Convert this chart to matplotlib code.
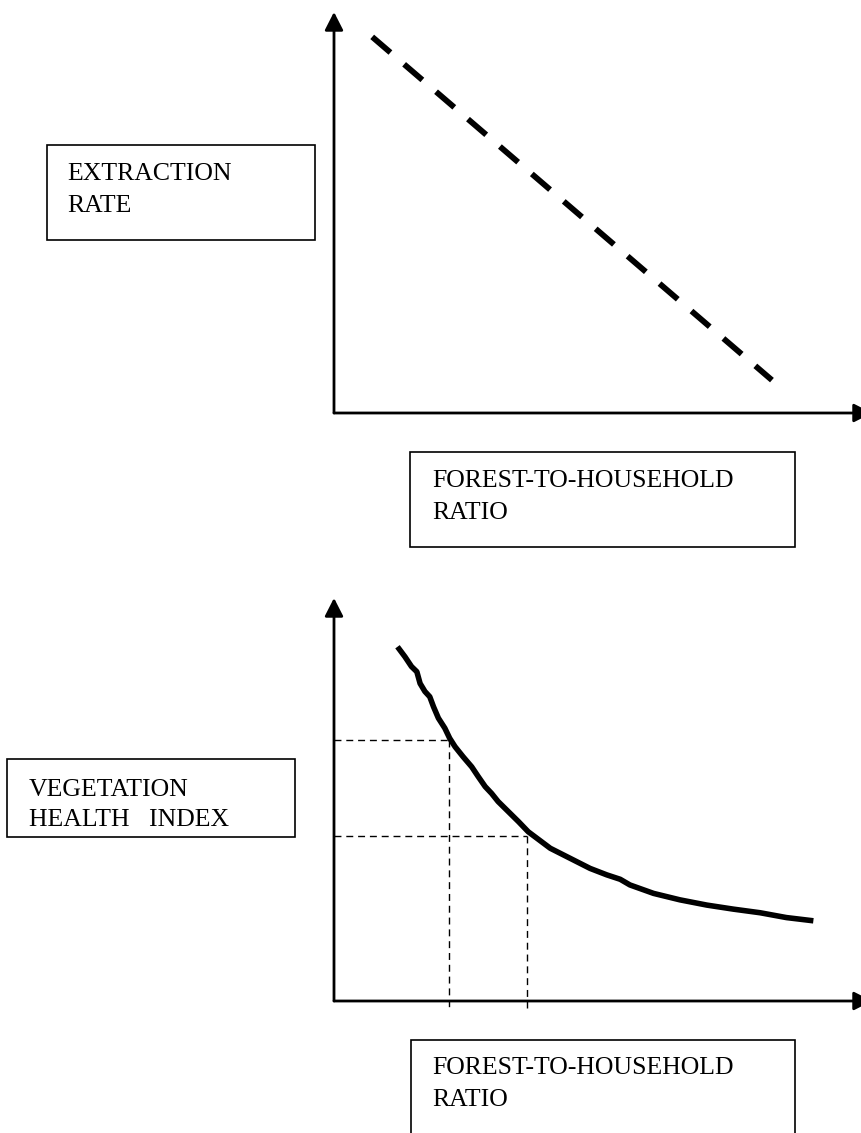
import matplotlib
matplotlib.use('Agg')
import matplotlib.pyplot as plt
from matplotlib.patches import Rectangle

plt.rcParams['font.family'] = ['Liberation Serif', 'DejaVu Serif']
plt.rcParams['lines.scale_dashes'] = False

# --- data (arbitrary 0-100 units) ---
extraction_x = [7.1, 81.4]
extraction_y = [93.8, 8.2]

vhi_x = [11.8, 13.2, 14.4, 15.4, 16.0, 16.9, 17.8, 18.5, 19.4, 20.6, 21.5, 22.5,
         24.0, 25.6, 26.8, 28.1, 29.3, 30.5, 32.4, 34.3, 36.1, 38.6, 40.2, 43.9,
         47.6, 50.7, 53.2, 55.0, 59.4, 64.3, 69.3, 74.2, 79.2, 84.1, 89.1]
vhi_y = [87.9, 85.4, 83.0, 81.7, 78.8, 76.8, 75.5, 73.0, 70.2, 67.7, 65.2, 63.1,
         60.6, 58.1, 55.7, 53.2, 51.5, 49.5, 47.0, 44.5, 42.0, 39.5, 37.9, 35.4,
         32.9, 31.3, 30.2, 28.8, 26.7, 25.1, 23.8, 22.8, 21.9, 20.7, 19.9]

guide_x = [21.4, 35.8]
guide_y = [64.8, 40.9]

top_ylabel = ['EXTRACTION', 'RATE']
bottom_ylabel = ['VEGETATION', 'HEALTH   INDEX']
xlabel = ['FOREST-TO-HOUSEHOLD', 'RATIO']

W, H = 862, 1133
fig = plt.figure(figsize=(W / 100, H / 100), dpi=100)
fig.patch.set_facecolor('white')


def px_axes(x0, ytop, x1, ybot):
    return fig.add_axes([x0 / W, 1 - ybot / H, (x1 - x0) / W, (ybot - ytop) / H])


def px_box(x0, ytop, x1, ybot):
    fig.add_artist(Rectangle((x0 / W, 1 - ybot / H), (x1 - x0) / W, (ybot - ytop) / H,
                             transform=fig.transFigure, fill=False, ec='black', lw=1.2))


def px_lines(lines, x, y0, dy=31.5):
    for i, s in enumerate(lines):
        fig.text(x / W, 1 - (y0 + i * dy) / H, s, fontsize=18.5, va='baseline',
                 ha='left', color='black')


def arrow_axes(ax):
    ax.set_xlim(0, 100)
    ax.set_ylim(0, 100)
    ax.axis('off')
    style = '-|>,head_length=0.55,head_width=0.28'
    for tip in [(0, 1), (1, 0)]:
        ax.annotate('', xy=tip, xytext=(0, 0), xycoords='axes fraction',
                    arrowprops=dict(arrowstyle=style, lw=2, color='black',
                                    shrinkA=0, shrinkB=0, mutation_scale=20))


# top panel
ax1 = px_axes(334, 12, 872, 413)
arrow_axes(ax1)
ax1.plot(extraction_x, extraction_y, color='black', lw=4.2, dashes=(17.3, 13.0))

# bottom panel
ax2 = px_axes(334, 598, 872, 1001)
arrow_axes(ax2)
ax2.plot(vhi_x, vhi_y, color='black', lw=4.0, solid_capstyle='butt',
         solid_joinstyle='round')
for gx, gy in zip(guide_x, guide_y):
    ax2.plot([0, gx], [gy, gy], color='black', lw=1, dashes=(5, 3.5), clip_on=False)
    ax2.plot([gx, gx], [gy, -1.8], color='black', lw=1, dashes=(5, 3.5), clip_on=False)

# label boxes
px_box(47, 145, 315, 240)
px_lines(top_ylabel, 67, 180)
px_box(410, 452, 795, 547)
px_lines(xlabel, 432, 487)
px_box(7, 759, 295, 837)
px_lines(bottom_ylabel, 29, 796, dy=30)
px_box(411, 1040, 795, 1145)
px_lines(xlabel, 432, 1074)

fig.savefig('out.png', dpi=100)
